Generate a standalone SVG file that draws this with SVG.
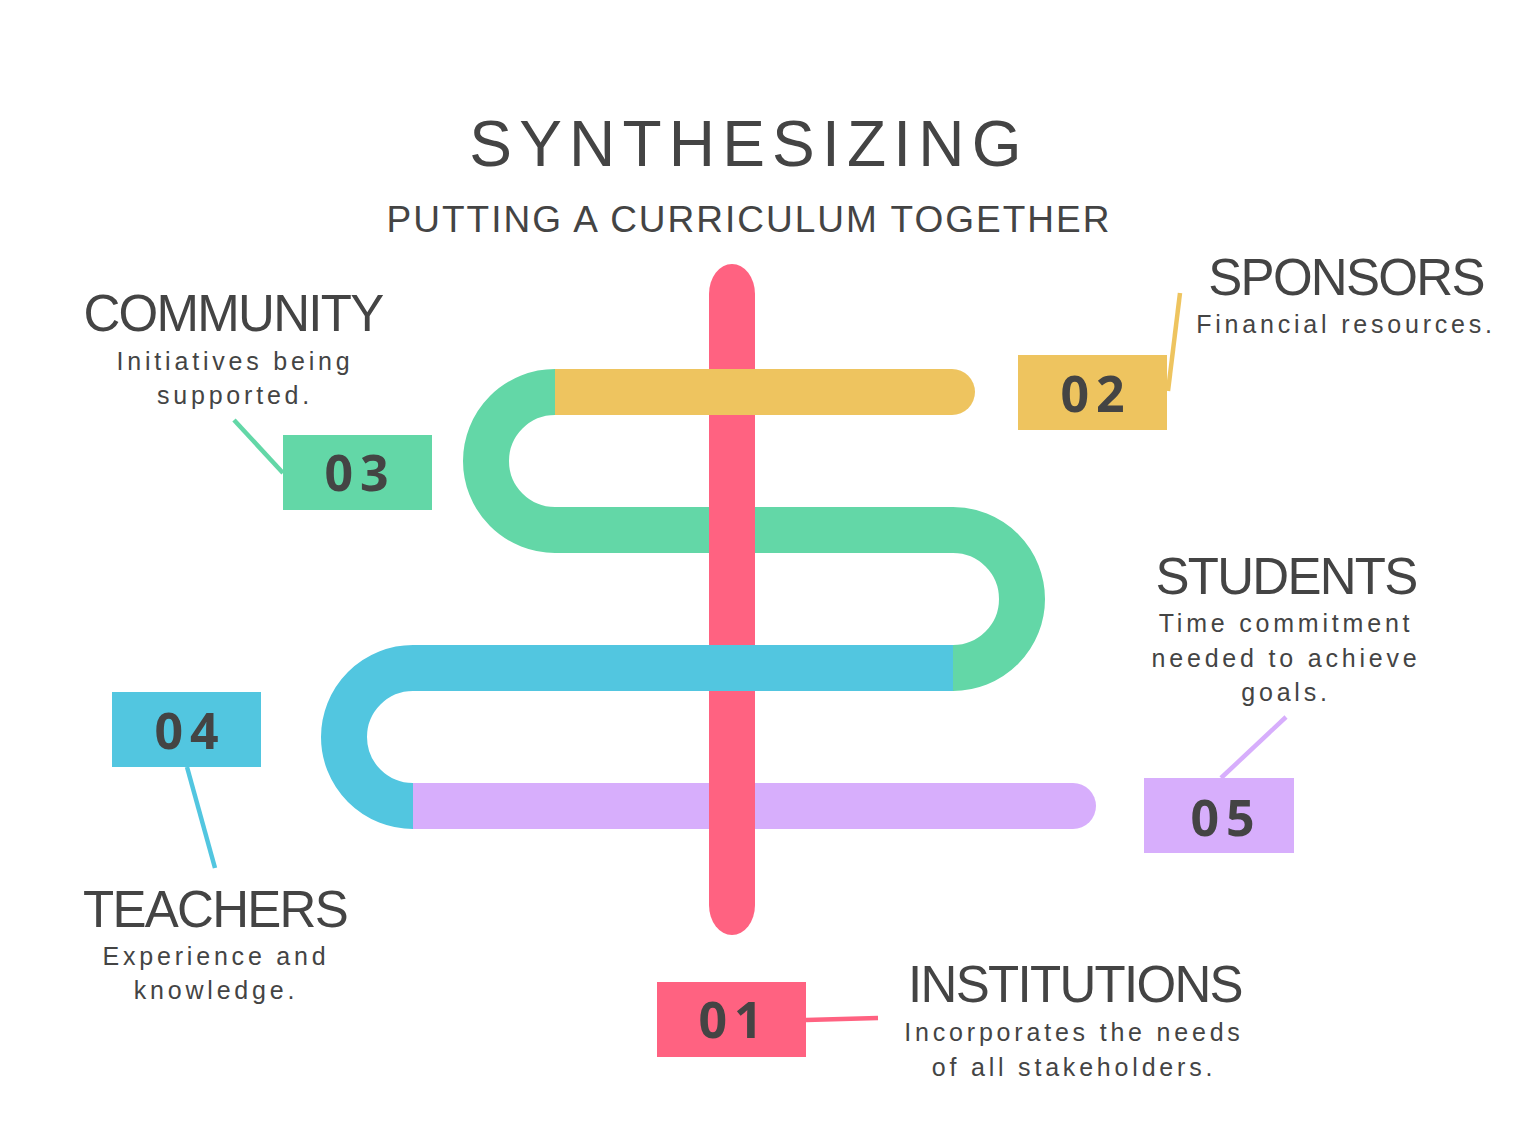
<svg xmlns="http://www.w3.org/2000/svg" width="1514" height="1125" viewBox="0 0 1514 1125">
<style>
.t{font-family:"Liberation Sans",Arial,sans-serif;fill:#444;text-anchor:middle}
.title{font-size:64px;letter-spacing:7.2px}
.sub{font-size:37px;letter-spacing:2px}
.h{font-size:51px;letter-spacing:-1.7px}
.d{font-size:25px;letter-spacing:3.8px}
.num{font-family:"Noto Sans","Liberation Sans",sans-serif;font-weight:bold;font-size:50px;fill:#444;text-anchor:middle;letter-spacing:7px}
.lead{fill:none;stroke-width:4.5}
</style>
<rect width="1514" height="1125" fill="#fff"/>
<g id="title">
<text class="t title" x="749" y="166">SYNTHESIZING</text>
<text class="t sub" x="749" y="232">PUTTING A CURRICULUM TOGETHER</text>
</g>
<g id="path">
<path d="M555,392 A69,69 0 0 0 555,530 H953 A69,69 0 0 1 953,668" fill="none" stroke="#63D7A7" stroke-width="46"/>
<path d="M413,783 H1073 A23,23 0 0 1 1073,829 H413 Z" fill="#D7AEFC"/>
<rect x="709" y="264" width="46" height="671" rx="23" ry="30" fill="#FF6281"/>
<path d="M555,369 H952 A23,23 0 0 1 952,415 H555 Z" fill="#EEC45F"/>
<path d="M953,668 H413 A69,69 0 0 0 413,806" fill="none" stroke="#52C6E0" stroke-width="46"/>
</g>
<g id="connectors">
<line class="lead" x1="806" y1="1020" x2="878" y2="1018" stroke="#FF6281"/>
<line class="lead" x1="1168" y1="391" x2="1180" y2="293" stroke="#EEC45F"/>
<line class="lead" x1="283" y1="473" x2="234" y2="420" stroke="#63D7A7"/>
<line class="lead" x1="187" y1="767" x2="215" y2="868" stroke="#52C6E0"/>
<line class="lead" x1="1221" y1="778" x2="1286" y2="717" stroke="#D7AEFC"/>
</g>
<g id="node01">
<rect x="657" y="982" width="149" height="75" fill="#FF6281"/>
<text class="num" x="734" y="1038">01</text>
<text class="t h" x="1075" y="1002">INSTITUTIONS</text>
<text class="t d" x="1074" y="1041">Incorporates the needs</text>
<text class="t d" x="1074" y="1076">of all stakeholders.</text>
</g>
<g id="node02">
<rect x="1018" y="355" width="149" height="75" fill="#EEC45F"/>
<text class="num" x="1096" y="412">02</text>
<text class="t h" x="1346" y="295">SPONSORS</text>
<text class="t d" x="1346" y="333">Financial resources.</text>
</g>
<g id="node03">
<rect x="283" y="435" width="149" height="75" fill="#63D7A7"/>
<text class="num" x="360" y="491">03</text>
<text class="t h" x="233" y="331">COMMUNITY</text>
<text class="t d" x="235" y="370">Initiatives being</text>
<text class="t d" x="235" y="404">supported.</text>
</g>
<g id="node04">
<rect x="112" y="692" width="149" height="75" fill="#52C6E0"/>
<text class="num" x="190" y="749">04</text>
<text class="t h" x="215" y="927">TEACHERS</text>
<text class="t d" x="216" y="965">Experience and</text>
<text class="t d" x="216" y="999">knowledge.</text>
</g>
<g id="node05">
<rect x="1144" y="778" width="150" height="75" fill="#D7AEFC"/>
<text class="num" x="1226" y="836">05</text>
<text class="t h" x="1286" y="594">STUDENTS</text>
<text class="t d" x="1286" y="632">Time commitment</text>
<text class="t d" x="1286" y="667">needed to achieve</text>
<text class="t d" x="1286" y="701">goals.</text>
</g>
</svg>
